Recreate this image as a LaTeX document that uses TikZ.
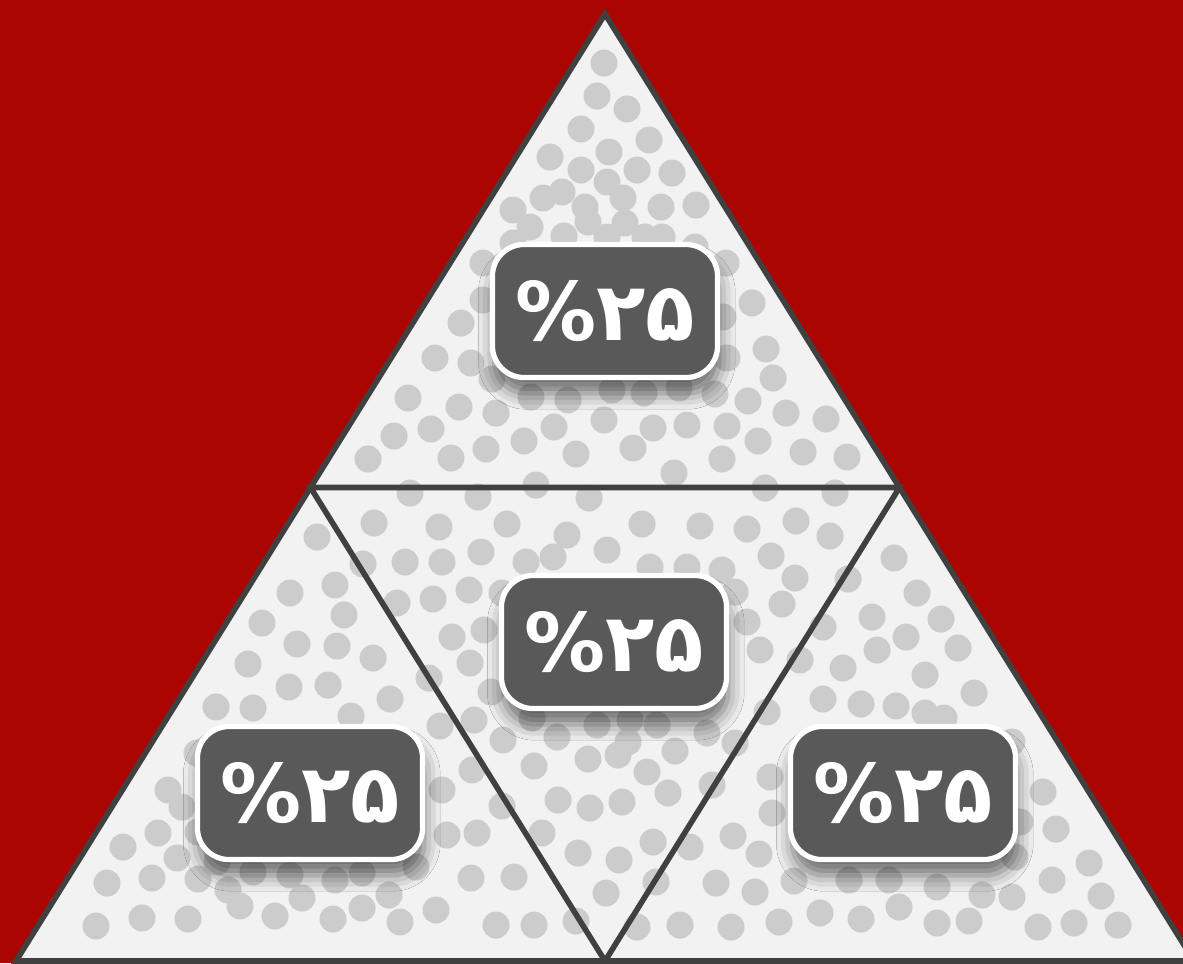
\documentclass[tikz,border=0pt]{standalone}
\usepackage{fontspec}
\newfontfamily\farsifont{DejaVu Sans}
\usetikzlibrary{shadows,shadows.blur}
\definecolor{bgred}{RGB}{170,5,0}
\definecolor{edgegray}{RGB}{64,64,64}
\definecolor{paper}{RGB}{242,242,242}
\definecolor{dotgray}{RGB}{204,204,204}
\definecolor{boxgray}{RGB}{89,89,89}
\tikzset{
    share/.style={fill=boxgray, draw=white, line width=1.5pt, rounded corners=9pt,
        minimum width=2.25cm, minimum height=1.33cm, text=white,
        font=\farsifont\bfseries\fontsize{23}{23}\selectfont,
        blur shadow={shadow xshift=0.5pt, shadow yshift=-4.5pt, shadow blur radius=4.5pt, shadow opacity=55}},
    edge/.style={edgegray, line width=1.6pt, line join=miter}
}

\begin{document}
\begin{tikzpicture}[x=0.01cm, y=-0.01cm]
    \fill[bgred] (0,0) rectangle (1183,963);
    \useasboundingbox (0,0) rectangle (1183,963);
    \coordinate (apex) at (605,14);
    \coordinate (bl) at (16,961);
    \coordinate (br) at (1194,961);
    \coordinate (ml) at (310.5,487.5);
    \coordinate (mr) at (899.5,487.5);
    \coordinate (mb) at (605,961);
    \fill[paper] (apex) -- (bl) -- (br) -- cycle;
    \begin{scope}
        \clip (apex) -- (bl) -- (br) -- cycle;
        \foreach \x/\y in {604/63, 597/96, 627/109, 581/129, 649/140, 550/157, 609/152, 581/170, 637/170, 672/173,
            607/182, 562/192, 543/198, 623/198, 513/210, 585/207, 661/207, 696/205, 530/227, 588/222, 625/223,
            564/236, 607/237, 645/237, 662/237, 513/243, 695/247, 483/263, 726/263, 483/300, 752/303, 461/323,
            723/317, 435/358, 471/363, 492/379, 408/398, 459/407, 496/413, 531/397, 568/400, 612/390, 394/436,
            431/429, 554/427, 604/420, 368/459, 451/458, 486/449, 524/441, 576/454, 410/493, 478/497, 536/485,
            589/498, 766/349, 727/358, 773/378, 679/388, 644/393, 715/394, 748/401, 786/413, 826/419, 653/428,
            687/425, 727/426, 758/441, 803/452, 847/457, 633/448, 722/459, 674/473, 765/488, 835/493}
            \fill[dotgray] (\x,\y) circle (0.135cm);
        \foreach \x/\y in {374/523, 439/527, 507/524, 567/535, 607/550, 363/564, 405/562, 442/562, 481/552,
            526/562, 553/557, 397/603, 433/599, 469/590, 502/593, 484/630, 452/637, 642/524, 700/526, 747/529,
            796/521, 830/536, 771/556, 650/567, 687/567, 722/570, 735/592, 795/578, 782/604, 848/579, 747/622,
            760/650, 470/663, 429/678, 491/692, 440/726, 474/720, 503/740, 532/718, 557/737, 597/725, 630/720,
            657/725, 628/742, 618/755, 588/759, 534/766, 675/751, 707/733, 735/743, 767/712, 647/772, 668/793,
            712/785, 770/777, 772/813, 472/770, 442/790, 502/806, 558/800, 590/808, 622/802, 447/835, 477/833,
            542/833, 653/842, 578/853, 619/860, 690/847, 733/836, 759/854, 416/867, 471/878, 514/877, 606/893,
            656/882, 716/883, 755/892, 794/881, 436/910, 496/925, 534/925, 576/921, 637/927, 680/925, 731/927,
            779/922}
            \fill[dotgray] (\x,\y) circle (0.135cm);
        \foreach \x/\y in {317/537, 335/585, 290/593, 344/615, 262/623, 297/644, 337/646, 373/658, 248/664,
            289/687, 328/685, 390/699, 216/707, 253/708, 351/716, 197/753, 168/790, 182/807, 158/833, 123/847,
            177/858, 198/832, 217/862, 107/883, 152/878, 198/879, 228/890, 240/906, 253/872, 290/875, 302/898,
            335/880, 362/873, 389/895, 96/926, 142/918, 188/919, 275/916, 333/919, 362/908, 400/922}
            \fill[dotgray] (\x,\y) circle (0.135cm);
        \foreach \x/\y in {823/627, 894/558, 917/593, 872/617, 941/619, 906/637, 958/648, 877/650, 843/668,
            925/675, 800/660, 823/699, 861/704, 896/706, 925/713, 944/718, 974/693, 1012/742, 1043/792,
            1056/829, 1020/822, 1015/857, 1089/863, 1052/880, 1012/897, 982/895, 937/887, 889/880, 849/880,
            899/907, 861/919, 820/913, 937/923, 969/921, 1038/927, 1074/923, 1118/925, 1101/896}
            \fill[dotgray] (\x,\y) circle (0.135cm);
    \end{scope}
    \draw[edge] (ml) -- (mr) -- (mb) -- cycle;
    \draw[edge] (apex) -- (bl) -- (br) -- cycle;
    \node[share] (top) at (605,311) {\%۲۵};
    \node[share] (mid) at (614,642) {\%۲۵};
    \node[share] (left) at (310,793) {\%۲۵};
    \node[share] (right) at (903,793) {\%۲۵};
\end{tikzpicture}
\end{document}
